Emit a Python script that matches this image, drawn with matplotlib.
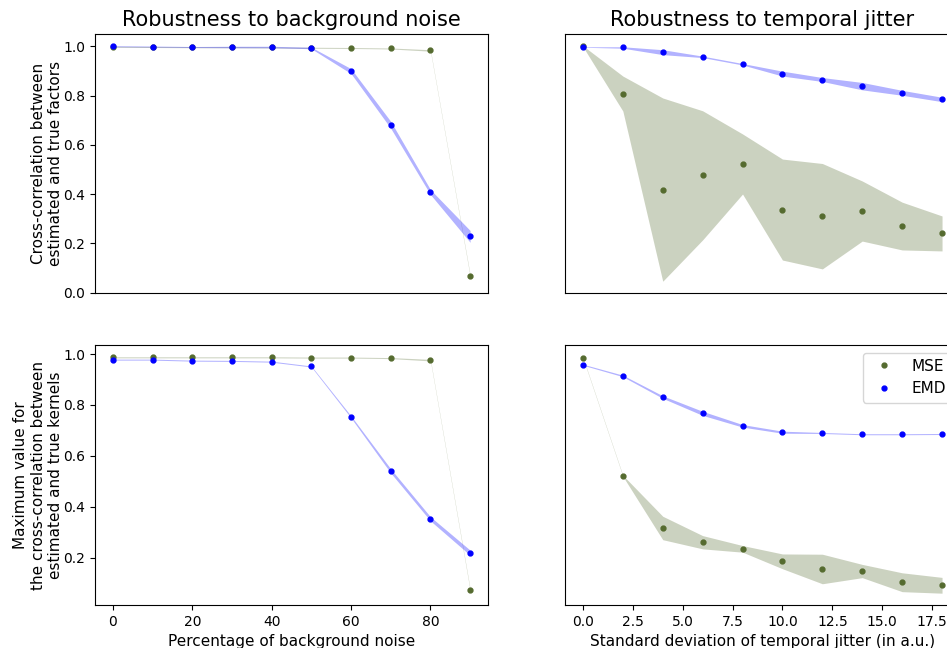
import numpy as np
import matplotlib
matplotlib.use("Agg")
import matplotlib.pyplot as plt

# Pegel des Hintergrundrauschens (%) und Jitter-Standardabweichungen
noise_levels = [0, 10, 20, 30, 40, 50, 60, 70, 80, 90]
jitter_levels = [0, 2, 4, 6, 8, 10, 12, 14, 16, 18]

# Kreuzkorrelation der Faktoren (Mittelwert, Standardabweichung)
fac_noise_mse = [0.998, 0.997, 0.996, 0.996, 0.995, 0.994, 0.993, 0.991, 0.983, 0.069]
fac_noise_mse_sd = [0.002, 0.002, 0.002, 0.002, 0.002, 0.002, 0.002, 0.002, 0.003, 0.004]
fac_noise_emd = [1.0, 0.999, 0.997, 0.997, 0.997, 0.993, 0.899, 0.681, 0.408, 0.228]
fac_noise_emd_sd = [0.002, 0.002, 0.002, 0.003, 0.003, 0.003, 0.01, 0.014, 0.01, 0.024]

fac_jitter_mse = [1.0, 0.808, 0.418, 0.476, 0.522, 0.337, 0.310, 0.331, 0.270, 0.240]
fac_jitter_mse_sd = [0.002, 0.071, 0.372, 0.262, 0.122, 0.205, 0.214, 0.122, 0.097, 0.071]
fac_jitter_emd = [0.997, 0.995, 0.976, 0.957, 0.927, 0.889, 0.865, 0.838, 0.811, 0.784]
fac_jitter_emd_sd = [0.001, 0.003, 0.01, 0.003, 0.003, 0.01, 0.008, 0.015, 0.01, 0.009]

# Maximum der Kreuzkorrelation der Kernel
ker_noise_mse = [0.987, 0.987, 0.987, 0.987, 0.987, 0.986, 0.986, 0.984, 0.976, 0.075]
ker_noise_mse_sd = [0.002, 0.002, 0.002, 0.002, 0.002, 0.002, 0.002, 0.002, 0.003, 0.004]
ker_noise_emd = [0.978, 0.978, 0.974, 0.973, 0.970, 0.951, 0.753, 0.541, 0.353, 0.220]
ker_noise_emd_sd = [0.002, 0.002, 0.002, 0.002, 0.002, 0.002, 0.004, 0.008, 0.008, 0.01]

ker_jitter_mse = [0.986, 0.522, 0.317, 0.261, 0.235, 0.186, 0.156, 0.148, 0.104, 0.092]
ker_jitter_mse_sd = [0.002, 0.002, 0.046, 0.026, 0.013, 0.029, 0.058, 0.026, 0.037, 0.031]
ker_jitter_emd = [0.958, 0.914, 0.831, 0.767, 0.718, 0.693, 0.690, 0.685, 0.685, 0.686]
ker_jitter_emd_sd = [0.002, 0.003, 0.005, 0.008, 0.005, 0.004, 0.002, 0.002, 0.002, 0.002]

mse_color = "darkolivegreen"
emd_color = "blue"

W, H = 947, 648


def box(x0, y0, x1, y1):
    # Pixelkoordinaten -> Figurkoordinaten
    return [x0 / W, 1 - y1 / H, (x1 - x0) / W, (y1 - y0) / H]


fig = plt.figure(figsize=(W / 100, H / 100), dpi=100)
ax_tl = fig.add_axes(box(95, 34, 488, 293))
ax_tr = fig.add_axes(box(565, 34, 960, 293), sharey=ax_tl)
ax_bl = fig.add_axes(box(95, 345, 488, 605), sharex=ax_tl)
ax_br = fig.add_axes(box(565, 345, 960, 605), sharex=ax_tr, sharey=ax_bl)


def draw(ax, x, mse, mse_sd, emd, emd_sd):
    x = np.array(x)
    mse, mse_sd = np.array(mse), np.array(mse_sd)
    emd, emd_sd = np.array(emd), np.array(emd_sd)
    ax.fill_between(x, mse - mse_sd, mse + mse_sd, color=mse_color, alpha=0.3, lw=0)
    ax.fill_between(x, emd - emd_sd, emd + emd_sd, color=emd_color, alpha=0.3, lw=0)
    ax.plot(x, mse, ".", color=mse_color, ms=7, label="MSE")
    ax.plot(x, emd, ".", color=emd_color, ms=7, label="EMD")


draw(ax_tl, noise_levels, fac_noise_mse, fac_noise_mse_sd, fac_noise_emd, fac_noise_emd_sd)
draw(ax_tr, jitter_levels, fac_jitter_mse, fac_jitter_mse_sd, fac_jitter_emd, fac_jitter_emd_sd)
draw(ax_bl, noise_levels, ker_noise_mse, ker_noise_mse_sd, ker_noise_emd, ker_noise_emd_sd)
draw(ax_br, jitter_levels, ker_jitter_mse, ker_jitter_mse_sd, ker_jitter_emd, ker_jitter_emd_sd)

ax_tl.set_title("Robustness to background noise", fontsize=15)
ax_tr.set_title("Robustness to temporal jitter", fontsize=15)
ax_tl.set_ylabel("Cross-correlation between\nestimated and true factors", fontsize=11, labelpad=0)
ax_bl.set_ylabel("Maximum value for\nthe cross-correlation between\nestimated and true kernels",
                 fontsize=11, labelpad=0)
ax_bl.set_xlabel("Percentage of background noise", fontsize=11)
ax_br.set_xlabel("Standard deviation of temporal jitter (in a.u.)", fontsize=11)

for ax in (ax_tl, ax_tr):
    ax.tick_params(bottom=False, labelbottom=False)
for ax in (ax_tr, ax_br):
    ax.tick_params(left=False, labelleft=False)

ax_br.legend(loc="upper right", fontsize=11)

fig.savefig("out.png", dpi=100)
